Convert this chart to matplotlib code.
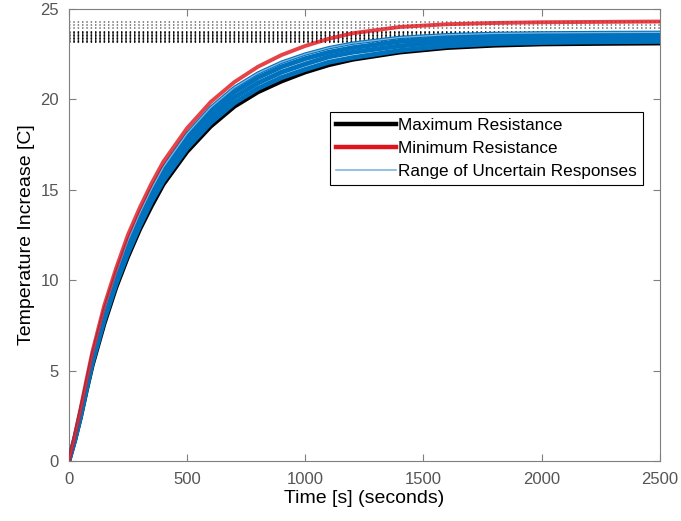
import matplotlib
matplotlib.use('Agg')
import matplotlib.pyplot as plt
from matplotlib.lines import Line2D

plt.rcParams['font.family'] = ['Liberation Sans', 'DejaVu Sans']

# time axis (s)
t = [0, 25, 50, 75, 100, 150, 200, 250, 300, 350, 400, 500, 600, 700, 800, 900,
     1000, 1100, 1200, 1400, 1600, 1800, 2000, 2250, 2500]

# temperature rise [C]
temp_max_res = [0, 1.1, 2.4, 3.9, 5.3, 7.6, 9.6, 11.3, 12.8, 14.1, 15.3, 17.1, 18.5,
                19.6, 20.4, 21.0, 21.5, 21.9, 22.2, 22.6, 22.85, 22.98, 23.05, 23.08, 23.1]
temp_min_res = [0, 1.4, 2.9, 4.5, 6.05, 8.6, 10.65, 12.5, 14.0, 15.35, 16.55, 18.4, 19.85,
                20.95, 21.8, 22.45, 22.95, 23.35, 23.65, 24.0, 24.15, 24.22, 24.26, 24.28, 24.3]
temp_unc_1 = [0, 1.15, 2.5, 4.0, 5.45, 7.8, 9.8, 11.5, 13.0, 14.35, 15.5, 17.3, 18.7,
              19.8, 20.6, 21.2, 21.65, 22.05, 22.3, 22.7, 22.95, 23.08, 23.14, 23.18, 23.2]
temp_unc_2 = [0, 1.2, 2.6, 4.1, 5.6, 8.0, 10.0, 11.75, 13.25, 14.6, 15.75, 17.6, 19.0,
              20.1, 20.9, 21.5, 21.95, 22.35, 22.6, 22.95, 23.18, 23.3, 23.35, 23.38, 23.4]
temp_unc_3 = [0, 1.25, 2.7, 4.2, 5.75, 8.2, 10.2, 12.0, 13.5, 14.85, 16.0, 17.85, 19.3,
              20.4, 21.2, 21.8, 22.25, 22.6, 22.85, 23.2, 23.38, 23.47, 23.52, 23.54, 23.55]
temp_unc_4 = [0, 1.3, 2.75, 4.3, 5.85, 8.35, 10.4, 12.2, 13.7, 15.05, 16.25, 18.1, 19.55,
              20.65, 21.45, 22.05, 22.5, 22.85, 23.1, 23.42, 23.57, 23.64, 23.67, 23.69, 23.7]

# steady-state levels (dotted lines)
steady_levels = [24.30, 24.12, 23.93, 23.74, 23.66, 23.57, 23.48, 23.40, 23.32,
                 23.25, 23.19]

blue = '#0072BD'
light_blue = '#7eb6e0'
red = '#e0141c'

fig = plt.figure(figsize=(6.81, 5.21), dpi=100)
ax = fig.add_axes([0.101, 0.115, 0.868, 0.868])

# dotted steady-state lines
for k, lvl in enumerate(steady_levels):
    ax.plot([t[0], t[-1]], [lvl, lvl], color='black', lw=1.3,
            linestyle=(0, (0.8, 1.6)), alpha=0.5 if k < 3 else 0.9, zorder=1)

ax.plot(t, temp_max_res, color='black', lw=3.2, zorder=2)
ax.plot(t, temp_unc_1, color=blue, lw=3.5, zorder=3)
ax.plot(t, temp_unc_2, color=blue, lw=3.5, zorder=3)
ax.plot(t, temp_unc_3, color=blue, lw=3.5, zorder=3)
ax.plot(t, temp_unc_4, color=blue, lw=2.5, zorder=3)
ax.plot(t, temp_unc_4, color=light_blue, lw=0.9, zorder=4)
ax.plot(t, temp_min_res, color=red, lw=2.8, alpha=0.8, zorder=5)

ax.set_xlim(0, 2500)
ax.set_ylim(0, 25)
ax.set_xticks([0, 500, 1000, 1500, 2000, 2500])
ax.set_yticks([0, 5, 10, 15, 20, 25])

spine_col = '#7f7f7f'
for s in ax.spines.values():
    s.set_color(spine_col)
    s.set_linewidth(0.8)
ax.tick_params(direction='in', top=True, right=True, length=5, width=0.8,
               color=spine_col, labelcolor='#555555', labelsize=12)
ax.tick_params(axis='x', pad=8)
ax.tick_params(axis='y', pad=7)

ax.set_xlabel('Time [s] (seconds)', fontsize=14, color='black', labelpad=2)
ax.set_ylabel('Temperature Increase [C]', fontsize=14, color='black', labelpad=4)

handles = [Line2D([], [], color='black', lw=3.2),
           Line2D([], [], color=red, lw=3.2),
           Line2D([], [], color=light_blue, lw=1.2)]
labels = ['Maximum Resistance', 'Minimum Resistance', 'Range of Uncertain Responses']
leg = ax.legend(handles, labels, loc='upper left',
                bbox_to_anchor=(330 / 681, 1 - 112 / 521),
                bbox_transform=fig.transFigure, fontsize=12.3,
                handlelength=3.5, handletextpad=0.15, borderpad=0.35,
                labelspacing=0.48, borderaxespad=0, fancybox=False,
                frameon=True, framealpha=1)
leg.get_frame().set_edgecolor('black')
leg.get_frame().set_linewidth(0.8)

fig.savefig('out.png', dpi=100)
